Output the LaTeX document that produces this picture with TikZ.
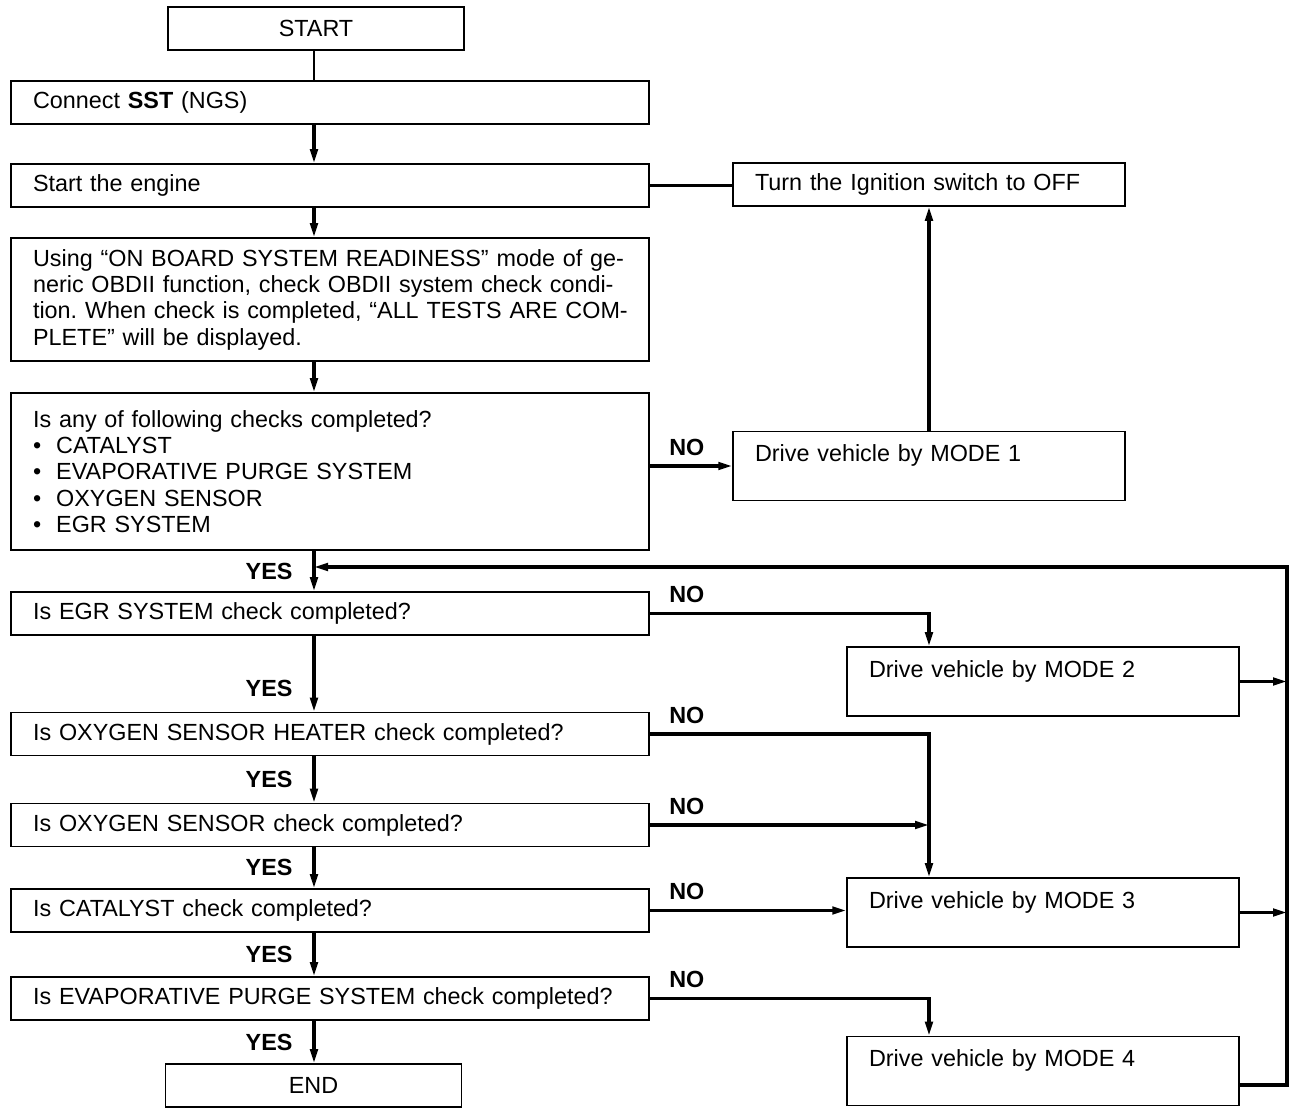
\documentclass[tikz,border=0pt]{standalone}
\usepackage{fontspec}
\setmainfont{Liberation Sans}
\frenchspacing
\usetikzlibrary{arrows.meta}

\begin{document}
\begin{tikzpicture}[->,>={Triangle[length=0.28cm,width=0.15cm]},x=0.02cm,y=-0.02cm,
    font=\fontsize{13.3}{15}\selectfont,
    stepbox/.style={draw,line width=0.9pt,inner xsep=0.44cm,inner ysep=0pt,
      minimum width=12.76cm,text width=11.88cm,minimum height=0.86cm,align=left},
    sidebox/.style={stepbox,minimum width=7.84cm,text width=6.96cm},
    modebox/.style={sidebox,text height=0.6cm,text depth=0.78cm},
    endbox/.style={draw,line width=0.9pt,minimum width=5.92cm,minimum height=0.86cm},
    link/.style={line width=1.8pt},
    yeslabel/.style={font=\fontsize{13.3}{15}\selectfont\bfseries,anchor=east,
      inner sep=0pt,xshift=-0.4cm},
    nolabel/.style={font=\fontsize{13.3}{15}\selectfont\bfseries,anchor=base west,
      inner sep=0pt,xshift=0.36cm,yshift=0.22cm}]

  \useasboundingbox (0,0) rectangle (1312,1116);
  \coordinate (spine) at (314,0);
  \coordinate (loop) at (1287,567);

  % main column
  \node[endbox] (START) at (316,28.5) {START};
  \node[stepbox] (Connect) at (330,102.5) {Connect \textbf{SST} (NGS)};
  \node[stepbox] (Engine) at (330,185.5) {Start the engine};
  \node[stepbox,minimum height=2.46cm] (Using) at (330,299.5)
    {\makebox[11.88cm][s]{Using “ON BOARD SYSTEM READINESS” mode of ge-}\\
     \makebox[11.88cm][s]{neric OBDII function, check OBDII system check condi-}\\
     \makebox[11.88cm][s]{tion. When check is completed, “ALL TESTS ARE COM-}\\
     PLETE” will be displayed.};
  \node[stepbox,minimum height=3.14cm] (Isany) at (330,471.5)
    {Is any of following checks completed?\\
     \textbullet\hspace{0.3cm}CATALYST\\
     \textbullet\hspace{0.3cm}EVAPORATIVE PURGE SYSTEM\\
     \textbullet\hspace{0.3cm}OXYGEN SENSOR\\
     \textbullet\hspace{0.3cm}EGR SYSTEM};
  \node[stepbox] (EGR) at (330,613.5) {Is EGR SYSTEM check completed?};
  \node[stepbox] (O2H) at (330,734) {Is OXYGEN SENSOR HEATER check completed?};
  \node[stepbox] (O2S) at (330,825) {Is OXYGEN SENSOR check completed?};
  \node[stepbox] (CAT) at (330,910.5) {Is CATALYST check completed?};
  \node[stepbox] (EVAP) at (330,998.5) {Is EVAPORATIVE PURGE SYSTEM check completed?};
  \node[endbox] (END) at (313.5,1085.5) {END};

  % right column
  \node[sidebox] (OFF) at (929,184.5) {Turn the Ignition switch to OFF};
  \node[modebox] (M1) at (929,466) {Drive vehicle by MODE 1};
  \node[modebox] (M2) at (1043,681.5) {Drive vehicle by MODE 2};
  \node[modebox] (M3) at (1043,912.5) {Drive vehicle by MODE 3};
  \node[modebox] (M4) at (1043,1071) {Drive vehicle by MODE 4};

  % YES path
  \draw[-,line width=0.9pt] (START.south -| spine) -- (Connect.north -| spine);
  \draw[link] (Connect.south -| spine) -- (Engine.north -| spine);
  \draw[link] (Engine.south -| spine) -- (Using.north -| spine);
  \draw[link] (Using.south -| spine) -- (Isany.north -| spine);
  \draw[link] (Isany.south -| spine) -- node[yeslabel] {YES} (EGR.north -| spine);
  \draw[link] (EGR.south -| spine) -- node[yeslabel,pos=0.7] {YES} (O2H.north -| spine);
  \draw[link] (O2H.south -| spine) -- node[yeslabel] {YES} (O2S.north -| spine);
  \draw[link] (O2S.south -| spine) -- node[yeslabel] {YES} (CAT.north -| spine);
  \draw[link] (CAT.south -| spine) -- node[yeslabel] {YES} (EVAP.north -| spine);
  \draw[link] (EVAP.south -| spine) -- node[yeslabel] {YES} (END.north -| spine);

  % NO path
  \draw[link,-] (Engine.east) -- (Engine.east -| OFF.west);
  \draw[link] (M1.north) -- (OFF.south);
  \draw[link] (M1.west -| Isany.east) -- node[nolabel,at start] {NO} (M1.west);
  \draw[link] (EGR.east) -| node[nolabel,at start] {NO} (M2.north -| M1.south);
  \draw[link] (O2H.east) -| node[nolabel,at start] {NO} (M3.north -| M1.south);
  \draw[link] (O2S.east) -- node[nolabel,at start] {NO} (O2S.east -| M1.south);
  \draw[link] (CAT.east) -- node[nolabel,at start] {NO} (CAT.east -| M3.west);
  \draw[link] (EVAP.east) -| node[nolabel,at start] {NO} (M4.north -| M1.south);

  % back to the checks
  \draw[link] ([yshift=-0.28cm]M4.east) -| (loop) -- (loop -| spine);
  \draw[link] (M2.east) -- (M2.east -| loop);
  \draw[link] (M3.east) -- (M3.east -| loop);

\end{tikzpicture}
\end{document}
